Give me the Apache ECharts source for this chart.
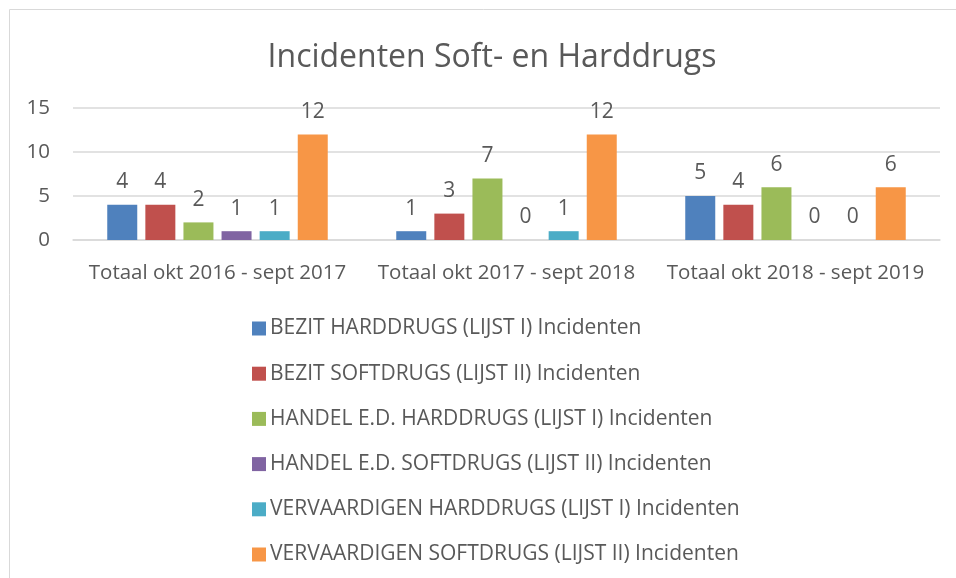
<!DOCTYPE html>
<html>
<head>
<meta charset="utf-8">
<script src="https://cdn.jsdelivr.net/npm/echarts@6/dist/echarts.min.js"></script>
<style>
  html, body { margin: 0; padding: 0; background: #fff; }
  #main { width: 956px; height: 578px; }
</style>
</head>
<body>
<div id="main"></div>
<script>
// categorieen en reeksen
var categories = ['Totaal okt 2016 - sept 2017', 'Totaal okt 2017 - sept 2018', 'Totaal okt 2018 - sept 2019'];
var seriesNames = [
    'BEZIT HARDDRUGS (LIJST I) Incidenten',
    'BEZIT SOFTDRUGS (LIJST II) Incidenten',
    'HANDEL E.D. HARDDRUGS (LIJST I) Incidenten',
    'HANDEL E.D. SOFTDRUGS (LIJST II) Incidenten',
    'VERVAARDIGEN HARDDRUGS (LIJST I) Incidenten',
    'VERVAARDIGEN SOFTDRUGS (LIJST II) Incidenten'
];
var bezitHard = [4, 1, 5];
var bezitSoft = [4, 3, 4];
var handelHard = [2, 7, 6];
var handelSoft = [1, 0, 0];
var vervHard = [1, 1, 0];
var vervSoft = [12, 12, 6];
var yTicks = [0, 5, 10, 15];

var colors = ['#4f81bd', '#c0504d', '#9bbb59', '#8064a2', '#4bacc6', '#f79646'];
var textColor = '#595959';
var fontFam = '"Open Sans", "Liberation Sans", sans-serif';

var chart = echarts.init(document.getElementById('main'));

var seriesData = [bezitHard, bezitSoft, handelHard, handelSoft, vervHard, vervSoft];

var defaultBar = {
    type: 'bar',
    barWidth: 30,
    barGap: '27%',
    label: {
        show: true,
        position: 'top',
        distance: 12,
        color: textColor,
        fontSize: 21,
        fontFamily: fontFam
    }
};

function $extend(a, b) {
    for (var k in b) { if (!(k in a)) a[k] = b[k]; }
    return a;
}

chart.setOption({
    color: colors,
    animation: false,
    graphic: [{
        type: 'rect',
        shape: { x: 9.5, y: 9.5, width: 960, height: 600 },
        style: { fill: 'none', stroke: '#d9d9d9', lineWidth: 1 }
    }],
    title: {
        text: 'Incidenten Soft- en Harddrugs',
        left: 487,
        textAlign: 'center',
        top: 37,
        textStyle: {
            color: textColor,
            fontSize: 32,
            fontWeight: 'normal',
            fontFamily: fontFam
        }
    },
    grid: {
        left: 73,
        right: 16,
        top: 108,
        height: 132
    },
    xAxis: {
        type: 'category',
        data: categories,
        axisLine: { lineStyle: { color: '#d9d9d9', width: 1.5 } },
        axisTick: { show: false },
        axisLabel: {
            interval: 0,
            color: textColor,
            fontSize: 20.5,
            margin: 23,
            fontFamily: fontFam
        }
    },
    yAxis: {
        type: 'value',
        min: yTicks[0],
        max: yTicks[yTicks.length - 1],
        interval: 5,
        axisLine: { show: false },
        axisTick: { show: false },
        splitLine: { lineStyle: { color: '#d9d9d9', width: 1.5 } },
        axisLabel: {
            color: textColor,
            fontSize: 20.5,
            margin: 23,
            fontFamily: fontFam
        }
    },
    legend: {
        orient: 'vertical',
        left: 247,
        top: 313,
        height: 260,
        itemWidth: 14,
        itemHeight: 14,
        itemGap: 24.2,
        icon: 'rect',
        textStyle: {
            color: textColor,
            fontSize: 21,
            fontFamily: fontFam,
            padding: [0, 0, 0, -1]
        },
        data: seriesNames
    },
    series: seriesData.map(function (d, i) {
        return $extend({ name: seriesNames[i], data: d }, defaultBar);
    })
});
</script>
</body>
</html>
